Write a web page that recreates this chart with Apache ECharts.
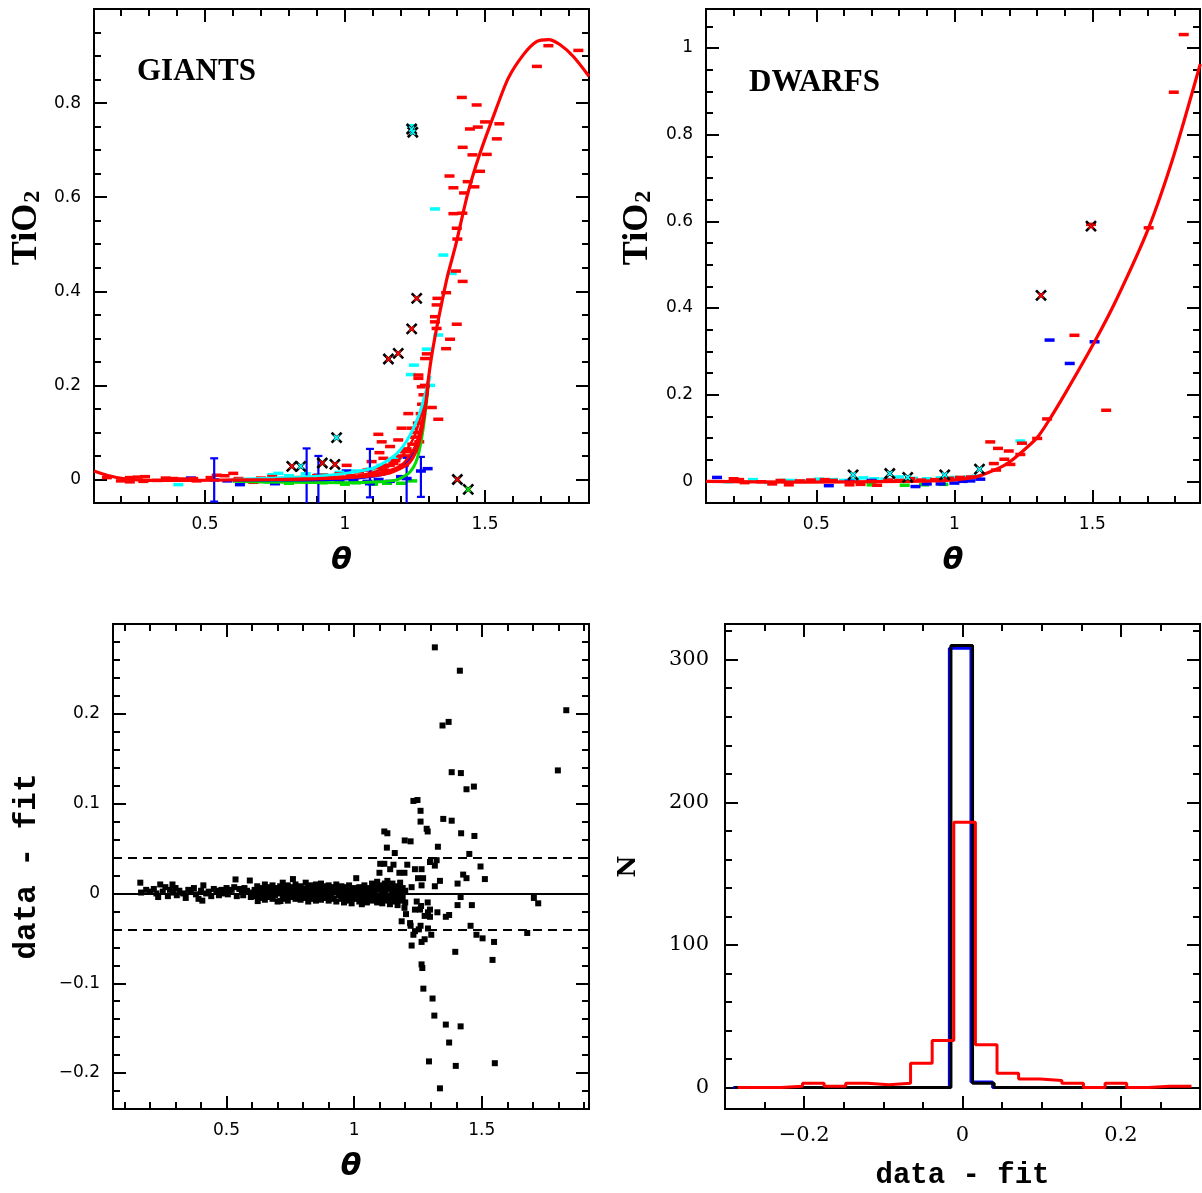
<!DOCTYPE html>
<html><head><meta charset="utf-8">
<script src="https://cdn.jsdelivr.net/npm/echarts@6/dist/echarts.min.js"></script>
<style>html,body{margin:0;padding:0;background:#fff}#c{width:1202px;height:1193px}</style>
</head><body><div id="c"></div>
<script>
// ---------------- Panel 1: GIANTS ----------------
const giantsFit = [[0.104,0.018],[0.15,0.009],[0.208,0.002],[0.3,-0.002],[0.45,-0.002],[0.6,-0.001],[0.75,0.0],[0.9,0.002],[1.0,0.004],[1.1,0.008],[1.16,0.014],[1.2,0.024],[1.23,0.036],[1.25,0.055],[1.265,0.08],[1.28,0.125],[1.29,0.17],[1.298,0.215],[1.31,0.265],[1.325,0.315],[1.339,0.357],[1.365,0.43],[1.396,0.5],[1.437,0.605],[1.48,0.69],[1.536,0.782],[1.583,0.853],[1.637,0.903],[1.685,0.931],[1.726,0.935],[1.768,0.924],[1.815,0.899],[1.871,0.857]];
const giantsFitCyan = [[0.6,0.0],[0.75,0.003],[0.9,0.007],[1.0,0.013],[1.1,0.024],[1.185,0.055],[1.232,0.094],[1.268,0.144],[1.292,0.194],[1.304,0.22]];
const giantsFitBlue = [[0.6,-0.001],[0.8,-0.001],[1.0,0.001],[1.1,0.007],[1.16,0.015],[1.22,0.038],[1.256,0.073],[1.28,0.13],[1.292,0.18],[1.3,0.22]];
const giantsFitGreen = [[0.6,-0.004],[0.8,-0.006],[1.0,-0.007],[1.125,-0.005],[1.185,-0.001],[1.232,0.016],[1.258,0.045],[1.277,0.1],[1.292,0.17],[1.3,0.22]];
const giantsFitRedA = [[0.6,0.0],[0.8,0.001],[1.0,0.006],[1.1,0.015],[1.185,0.038],[1.244,0.087],[1.28,0.157],[1.3,0.22]];
const giantsFitRedB = [[0.6,-0.001],[0.8,0.0],[1.0,0.003],[1.1,0.01],[1.2,0.03],[1.25,0.07],[1.285,0.15],[1.3,0.21]];
const giantsRedPts = [[1.685,0.878],[1.726,0.922],[1.833,0.912],[1.417,0.812],[1.47,0.796],[1.446,0.745],[1.474,0.749],[1.5,0.76],[1.551,0.756],[1.542,0.724],[1.42,0.706],[1.455,0.69],[1.506,0.691],[1.482,0.655],[1.373,0.645],[1.387,0.62],[1.438,0.633],[1.462,0.622],[1.425,0.609],[1.387,0.565],[1.419,0.566],[1.399,0.534],[1.401,0.511],[1.396,0.443],[1.42,0.421],[1.361,0.397],[1.33,0.385],[1.327,0.371],[1.321,0.346],[1.321,0.335],[1.327,0.321],[1.399,0.33],[1.375,0.298],[1.361,0.278],[1.292,0.267],[1.286,0.257],[1.262,0.222],[1.262,0.215],[1.274,0.197],[1.31,0.153],[1.333,0.128],[1.226,0.14],[1.202,0.109],[1.238,0.109],[1.119,0.096],[1.131,0.08],[1.161,0.07],[1.19,0.084],[1.123,0.057],[1.214,0.059],[1.006,0.03],[1.095,0.038],[1.137,0.045],[1.149,0.03],[1.173,0.034],[0.923,0.009],[0.851,0.002],[0.804,-0.001],[0.601,0.013],[0.542,0.009],[0.458,0.002],[0.387,0.002],[0.286,0.006],[0.232,0.004],[0.232,-0.005],[0.28,-0.004],[0.673,-0.006],[0.875,-0.005],[0.15,0.004],[0.2,-0.003],[0.26,0.005],[0.33,-0.002],[0.36,0.003],[0.42,0.001],[0.47,-0.003],[0.52,0.004],[0.57,0.008],[0.62,0.002],[0.66,-0.004],[0.7,0.003],[0.74,0.006],[0.78,0.001],[0.83,0.004],[0.88,0.0],[0.9,0.008],[0.95,0.004],[0.98,0.012],[1.02,0.008],[1.05,0.016],[1.08,0.02],[1.1,0.012],[1.12,0.025],[1.14,0.02],[1.16,0.03],[1.18,0.04],[1.2,0.05],[1.21,0.03],[1.22,0.065],[1.23,0.05],[1.24,0.075],[1.245,0.06],[1.25,0.09],[1.255,0.1],[1.26,0.12],[1.265,0.08],[1.27,0.14],[1.275,0.16],[1.28,0.18],[1.285,0.2]];
const giantsCyanPts = [[1.238,0.752],[1.321,0.575],[1.351,0.477],[1.381,0.438],[1.333,0.307],[1.292,0.277],[1.246,0.243],[1.235,0.223],[1.304,0.2],[0.762,0.013],[0.405,-0.011],[1.185,0.046],[0.74,0.01],[0.8,0.008],[0.86,0.012],[0.92,0.01],[0.98,0.015],[1.04,0.018],[1.09,0.022],[1.13,0.03],[1.17,0.04],[1.21,0.06]];
const giantsBluePts = [[0.533,-0.001],[0.863,0.002],[0.905,0.009],[1.089,-0.009],[1.22,0.002],[1.271,0.018],[1.295,0.023],[1.006,0.018],[0.625,-0.011],[0.75,-0.009],[0.45,0.003],[0.58,-0.003],[0.7,-0.004],[0.78,0.002],[0.84,-0.002],[0.92,0.0],[0.98,-0.005],[1.03,-0.002],[1.08,-0.004],[1.12,0.0],[1.16,-0.004],[1.2,0.006]];
const giantsBlueErr = [[0.533,-0.047,0.045],[0.863,-0.06,0.066],[0.905,-0.06,0.05],[1.089,-0.038,0.065],[1.22,-0.06,0.046],[1.271,-0.037,0.048]];
const giantsGreenPts = [[0.66,-0.003],[0.73,-0.005],[0.8,-0.008],[0.86,-0.004],[0.92,-0.007],[1.0,-0.01],[1.04,-0.007],[1.1,-0.01],[1.15,-0.008],[1.2,-0.008],[1.24,-0.003]];
const giantsCrossCyan = [[1.238,0.745],[1.242,0.738],[0.97,0.089],[0.842,0.028]];
const giantsCrossRed = [[1.256,0.385],[1.238,0.32],[1.19,0.268],[1.155,0.256],[0.81,0.028],[0.919,0.035],[0.964,0.032],[1.401,0.0]];
const giantsCrossGreen = [[1.44,-0.021]];

// ---------------- Panel 2: DWARFS ----------------
const dwarfsFit = [[0.1,0.0],[0.442,-0.002],[0.804,0.0],[0.986,0.003],[1.07,0.009],[1.13,0.022],[1.191,0.041],[1.239,0.065],[1.3,0.101],[1.336,0.134],[1.408,0.21],[1.508,0.322],[1.589,0.422],[1.704,0.585],[1.795,0.752],[1.891,0.963]];
const dwarfsRedPts = [[1.831,1.031],[1.795,0.898],[1.704,0.585],[1.495,0.593],[1.435,0.337],[1.55,0.164],[1.336,0.144],[1.3,0.099],[1.13,0.091],[1.158,0.076],[1.197,0.07],[1.245,0.088],[1.239,0.062],[1.143,0.041],[1.181,0.051],[1.203,0.039],[1.151,0.026],[0.2,0.006],[0.22,0.004],[0.24,-0.003],[0.3,-0.001],[0.34,-0.006],[0.37,0.002],[0.4,-0.008],[0.44,0.001],[0.48,0.003],[0.53,0.004],[0.56,0.002],[0.62,-0.008],[0.66,-0.007],[0.7,0.0],[0.72,-0.009],[0.76,0.003],[0.8,0.002],[0.84,0.006],[0.88,0.003],[0.93,0.004],[0.98,0.007],[1.02,0.009],[1.06,0.01]];
const dwarfsBluePts = [[1.345,0.326],[1.418,0.272],[1.508,0.322],[0.14,0.009],[0.545,-0.01],[0.62,0.0],[0.7,0.002],[0.859,-0.012],[0.9,-0.006],[0.95,-0.006],[1.0,-0.004],[1.058,0.001],[1.094,0.005],[1.03,0.0]];
const dwarfsCyanPts = [[1.239,0.093],[0.18,-0.001],[0.27,0.004],[0.33,-0.003],[0.38,0.002],[0.41,0.002],[0.47,0.001],[0.51,0.005],[0.56,0.004],[0.6,0.002],[0.64,0.004],[0.67,0.008],[0.71,0.006],[0.75,0.005],[0.8,0.01],[0.85,0.007],[0.9,0.006],[0.95,0.008],[1.0,0.009],[1.05,0.01],[1.08,0.012]];
const dwarfsGreenPts = [[0.7,-0.008],[0.82,-0.009],[0.89,-0.008],[0.96,-0.007]];
const dwarfsCrossCyan = [[0.633,0.015],[0.766,0.018],[0.831,0.009],[0.965,0.015],[1.091,0.028]];
const dwarfsCrossRed = [[1.314,0.429],[1.495,0.589]];

// ---------------- Panel 3: residuals ----------------
const residOutliers = [[1.316,0.274],[1.414,0.248],[1.831,0.204],[1.346,0.187],[1.37,0.191],[1.798,0.137],[1.382,0.135],[1.418,0.134],[1.44,0.116],[1.469,0.119],[1.232,0.103],[1.248,0.104],[1.26,0.092],[1.26,0.08],[1.284,0.072],[1.288,0.069],[1.349,0.083],[1.382,0.081],[1.118,0.069],[1.13,0.067],[1.419,0.067],[1.471,0.064],[1.198,0.059],[1.221,0.058],[1.128,0.051],[1.159,0.045],[1.328,0.052],[1.451,0.044],[1.102,0.033],[1.118,0.033],[1.154,0.032],[1.208,0.032],[1.238,0.027],[1.264,0.027],[1.297,0.035],[1.323,0.037],[1.316,0.031],[1.495,0.03],[1.099,0.023],[1.141,0.027],[1.177,0.023],[1.197,0.023],[1.25,0.017],[1.27,0.017],[1.427,0.021],[1.44,0.017],[1.512,0.016],[1.008,0.017],[0.76,0.016],[1.336,0.014],[1.264,0.009],[1.225,0.007],[1.405,0.011],[1.316,0.008],[1.417,-0.004],[1.704,-0.005],[1.721,-0.011],[1.405,-0.013],[1.461,-0.013],[1.288,-0.01],[1.245,-0.009],[1.262,-0.014],[1.297,-0.018],[1.326,-0.021],[1.197,-0.016],[1.238,-0.018],[1.203,-0.023],[1.186,-0.031],[1.219,-0.033],[1.258,-0.018],[1.289,-0.021],[1.276,-0.025],[1.297,-0.026],[1.359,-0.026],[1.372,-0.024],[1.221,-0.036],[1.26,-0.036],[1.238,-0.042],[1.253,-0.04],[1.232,-0.046],[1.289,-0.039],[1.302,-0.046],[1.276,-0.051],[1.264,-0.054],[1.456,-0.036],[1.479,-0.046],[1.503,-0.05],[1.548,-0.054],[1.678,-0.044],[1.225,-0.058],[1.396,-0.065],[1.542,-0.074],[1.264,-0.079],[1.267,-0.083],[1.271,-0.106],[1.307,-0.117],[1.314,-0.136],[1.359,-0.146],[1.417,-0.148],[1.372,-0.166],[1.293,-0.187],[1.398,-0.192],[1.551,-0.189],[1.336,-0.217]];
const residBand = [[0.162,0.012],[0.165,0.001],[0.185,0.004],[0.2,0.002],[0.215,0.005],[0.225,0.0],[0.232,-0.004],[0.24,0.01],[0.25,0.002],[0.26,0.007],[0.27,-0.003],[0.278,0.004],[0.288,0.01],[0.29,0.001],[0.3,0.006],[0.305,-0.002],[0.315,0.003],[0.33,0.0],[0.34,-0.005],[0.35,0.004],[0.36,0.002],[0.372,0.006],[0.38,-0.001],[0.39,-0.006],[0.4,0.003],[0.405,-0.008],[0.409,0.009],[0.42,0.0],[0.43,0.002],[0.44,-0.003],[0.45,0.005],[0.46,0.003],[0.47,-0.002],[0.48,0.004],[0.49,0.0],[0.5,0.006],[0.505,-0.001],[0.51,0.002],[0.52,0.004],[0.53,0.007],[0.535,0.0156],[0.54,-0.003],[0.55,0.005],[0.56,0.002],[0.565,-0.002],[0.57,0.006],[0.58,0.003],[0.591,0.0144],[0.595,-0.004],[0.6,0.001],
[0.61,0.004],[0.61,-0.003],[0.62,0.008],[0.622,-0.0085],[0.62,0.001],[0.63,0.002],[0.63,-0.005],[0.64,0.006],[0.64,0.0],[0.65,0.01],[0.65,-0.002],[0.65,-0.007],[0.66,0.003],[0.66,0.007],[0.67,-0.004],[0.67,0.005],[0.67,0.001],[0.68,0.009],[0.68,-0.006],[0.69,0.002],[0.69,-0.002],[0.69,0.006],[0.7,0.004],[0.7,-0.009],[0.711,-0.0085],[0.71,0.0],[0.71,0.008],[0.72,0.012],[0.72,0.003],[0.72,-0.006],[0.73,0.006],[0.73,-0.002],[0.74,0.001],[0.74,0.009],[0.74,-0.008],[0.75,0.004],[0.75,-0.004],[0.76,0.007],[0.76,-0.001],[0.77,0.003],[0.77,-0.006],[0.77,0.01],[0.78,0.0],[0.78,0.006],[0.78,-0.003],[0.79,0.008],[0.79,-0.007],[0.79,0.002],[0.8,0.005],[0.8,-0.002],[0.81,0.012],[0.81,0.001],[0.81,-0.005],[0.82,0.004],[0.82,-0.009],[0.82,0.007],[0.83,0.0],[0.83,0.009],[0.83,-0.003],[0.84,0.006],[0.84,-0.006],[0.84,0.002],[0.85,0.01],[0.85,-0.001],[0.85,-0.008],[0.86,0.004],[0.86,0.007],[0.86,-0.004],[0.87,0.001],[0.87,-0.007],[0.87,0.011],[0.88,0.005],[0.88,-0.002],[0.88,0.008],[0.89,-0.005],[0.89,0.003],[0.89,0.0],[0.9,0.009],[0.9,-0.008],[0.9,0.002],[0.91,0.005],[0.91,-0.003],[0.92,0.001],[0.92,0.007],[0.92,-0.006],[0.93,0.004],[0.93,-0.009],[0.93,0.01],[0.94,-0.002],[0.94,0.006],[0.95,0.003],[0.95,-0.006],[0.95,0.008],[0.96,0.0],[0.96,-0.01],[0.96,0.005],[0.97,0.007],[0.97,-0.004],[0.98,0.002],[0.98,-0.008],[0.98,0.009],[0.99,0.005],[0.99,-0.002],[0.99,-0.011],[1.0,0.0],[1.0,0.006],[1.0,-0.006],[1.01,-0.003],[1.01,0.003],[1.02,0.001],[1.02,-0.009],[1.02,0.007],[1.03,-0.005],[1.03,0.004],[1.03,-0.012],[1.04,0.002],[1.04,-0.007],[1.04,0.009],[1.05,-0.002],[1.05,0.005],[1.05,-0.01],[1.06,0.006],[1.06,-0.005],[1.06,0.0],[1.07,-0.008],[1.07,0.003],[1.07,0.011],[1.08,0.0],[1.08,-0.004],[1.08,0.007],[1.09,-0.01],[1.09,0.004],[1.09,0.013],[1.1,-0.003],[1.1,0.009],[1.1,-0.007],[1.11,0.002],[1.11,-0.011],[1.11,0.006],[1.12,-0.005],[1.12,0.011],[1.12,0.0],[1.13,0.005],[1.13,-0.008],[1.13,0.014],[1.14,-0.002],[1.14,0.008],[1.14,-0.012],[1.15,0.003],[1.15,-0.006],[1.15,0.011],[1.16,-0.009],[1.16,0.005],[1.16,0.0],[1.17,0.008],[1.17,-0.004],[1.17,-0.013],[1.18,0.002],[1.18,-0.008],[1.18,0.012],[1.19,-0.005],[1.19,0.006],[1.2,0.003],[1.2,-0.01]];
const residZero = [0];
const residLimits = [-0.04, 0.04];

// ---------------- Panel 4: histograms ----------------
const histRedEdges = [-0.284,-0.2567,-0.2294,-0.2021,-0.1748,-0.1475,-0.1202,-0.0929,-0.0656,-0.0383,-0.011,0.0163,0.0436,0.0709,0.0982,0.1255,0.1528,0.1801,0.2074,0.2347,0.262,0.2893];
const histRedCounts = [0,0,1,3,1,3,2,3,17,33,186,30,10,6,5,3,0,3,0,1,1];
const histBlackEdges = [-0.2876,-0.2603,-0.233,-0.2057,-0.1784,-0.1511,-0.1238,-0.0965,-0.0692,-0.0419,-0.0146,0.0127,0.04,0.0673,0.0946,0.1219,0.1492,0.1765,0.2038,0.2311,0.2584,0.2857];
const histBlackCounts = [0,0,0,0,0,0,0,0,0,0,310,3,0,0,0,0,0,0,0,0,0];
const histBlueEdges = [-0.2896,-0.2623,-0.235,-0.2077,-0.1804,-0.1531,-0.1258,-0.0985,-0.0712,-0.0439,-0.0166,0.0107,0.038,0.0653,0.0926,0.1199,0.1472,0.1745,0.2018,0.2291,0.2564,0.2837];
const histBlueCounts = [0,0,0,0,0,0,0,0,0,0,308,4,0,0,0,0,0,0,0,0,0];

// ---------------- Tick values ----------------
const thetaMajor = [0.5, 1, 1.5];
const thetaMinor1 = [0.2,0.3,0.4,0.6,0.7,0.8,0.9,1.1,1.2,1.3,1.4,1.6,1.7,1.8];
const thetaMinor3 = [0.1,0.2,0.3,0.4,0.6,0.7,0.8,0.9,1.1,1.2,1.3,1.4,1.6,1.7,1.8,1.9];
const tio2MajorG = [0, 0.2, 0.4, 0.6, 0.8];
const tio2MajorD = [0, 0.2, 0.4, 0.6, 0.8, 1];
const tio2MinorG = [-0.05,0.05,0.1,0.15,0.25,0.3,0.35,0.45,0.5,0.55,0.65,0.7,0.75,0.85,0.9,0.95];
const tio2MinorD = [-0.05,0.05,0.1,0.15,0.25,0.3,0.35,0.45,0.5,0.55,0.65,0.7,0.75,0.85,0.9,0.95,1.05];
const residMajor = [-0.2, -0.1, 0, 0.1, 0.2];
const residMinor = [-0.22,-0.18,-0.16,-0.14,-0.12,-0.08,-0.06,-0.04,-0.02,0.02,0.04,0.06,0.08,0.12,0.14,0.16,0.18,0.22,0.24,0.26,0.28];
const diffMajor = [-0.2, 0, 0.2];
const diffMinor = [-0.25,-0.15,-0.1,-0.05,0.05,0.1,0.15,0.25];
const countMajor = [0, 100, 200, 300];
const countMinor = [20,40,60,80,120,140,160,180,220,240,260,280,320];

// ---------------- Build option ----------------
const RED='#ff0000', CYAN='#00ffff', BLUE='#0000ff', GREEN='#00dd00', BLACK='#000000';
const minusFmt = v => (v < 0 ? '\u2212' + Math.abs(v) : String(v));
const sansLbl = {color:'#000', fontFamily:'DejaVu Sans', fontSize:17, margin:13, formatter:minusFmt};
const serifLbl = {color:'#000', fontFamily:'DejaVu Serif', fontSize:21, margin:16, formatter:minusFmt};

function axesFor(kind, gi, min, max, major, minor, lbl, extra) {
  const sides = kind === 'x' ? ['bottom','top'] : ['left','right'];
  const out = [];
  sides.forEach((pos, si) => {
    [major, minor].forEach((vals, mi) => {
      const ax = {type:'value', gridIndex:gi, min:min, max:max, position:pos,
        axisLine:{show:false, onZero:false},
        axisTick:{show:true, inside:true, length: mi===0 ? 13 : 7, customValues: vals,
                  lineStyle:{color:'#000', width:2}},
        axisLabel:{show:false}, splitLine:{show:false}, minorTick:{show:false}};
      if (si === 0 && mi === 0) {
        ax.axisLabel = Object.assign({show:true, customValues: major}, lbl);
        Object.assign(ax, extra || {});
      }
      out.push(ax);
    });
  });
  return out;
}

const grids = [
  {left:94, top:9, width:495, height:494},
  {left:706, top:9, width:494, height:494},
  {left:113, top:624, width:476, height:485},
  {left:725, top:624, width:475, height:485}
].map(g => Object.assign({show:true, borderColor:'#000', borderWidth:2, backgroundColor:'transparent'}, g));

const thetaName = {name:'\u03b8', nameLocation:'middle', nameGap:43,
  nameTextStyle:{fontFamily:'DejaVu Sans', fontWeight:'bold', fontStyle:'italic', fontSize:30, color:'#000'}};

const xAxes = [].concat(
  axesFor('x', 0, 0.104, 1.871, thetaMajor, thetaMinor1, sansLbl, thetaName),
  axesFor('x', 1, 0.1, 1.89, thetaMajor, thetaMinor1, sansLbl, thetaName),
  axesFor('x', 2, 0.055, 1.92, thetaMajor, thetaMinor3, sansLbl, Object.assign({}, thetaName, {nameGap:43})),
  axesFor('x', 3, -0.3, 0.3, diffMajor, diffMinor, serifLbl, {name:'data - fit', nameLocation:'middle', nameGap:52,
    nameTextStyle:{fontFamily:'Liberation Mono', fontWeight:'bold', fontSize:29, color:'#000'}})
);
const yAxes = [].concat(
  axesFor('y', 0, -0.05, 1.0, tio2MajorG, tio2MinorG, sansLbl),
  axesFor('y', 1, -0.05, 1.09, tio2MajorD, tio2MinorD, sansLbl),
  axesFor('y', 2, -0.24, 0.3, residMajor, residMinor, sansLbl, {name:'data - fit', nameLocation:'middle', nameGap:70, nameRotate:90,
    nameTextStyle:{fontFamily:'Liberation Mono', fontWeight:'bold', fontSize:31, color:'#000'}}),
  axesFor('y', 3, -15, 325, countMajor, countMinor, serifLbl, {name:'N', nameLocation:'middle', nameGap:84, nameRotate:90,
    nameTextStyle:{fontFamily:'DejaVu Serif', fontWeight:'bold', fontSize:24, color:'#000'}})
);

function ax(gi) { return {xAxisIndex: gi*4, yAxisIndex: gi*4}; }
function dashes(gi, data, color) {
  return Object.assign({type:'scatter', data:data, symbol:'rect', symbolSize:[10,3.5], silent:true,
    itemStyle:{color:color, opacity:1}, z:2}, ax(gi));
}
function fitLine(gi, data, color, w, z) {
  return Object.assign({type:'line', data:data, showSymbol:false, smooth:0.25, silent:true,
    lineStyle:{color:color, width:w}, z:z}, ax(gi));
}
const crossPath = 'path://M0,0L10,10M10,0L0,10';
function crosses(gi, data, color) {
  return [
    Object.assign({type:'scatter', data:data, symbol:crossPath, symbolSize:10, silent:true,
      itemStyle:{color:'transparent', borderColor:BLACK, borderWidth:2.6, opacity:1}, z:6}, ax(gi)),
    Object.assign({type:'scatter', data:data, symbol:crossPath, symbolSize:5, silent:true,
      itemStyle:{color:'transparent', borderColor:color, borderWidth:1.6, opacity:1}, z:7}, ax(gi))
  ];
}
function errBars(gi, data, color) {
  return Object.assign({type:'custom', data:data, silent:true, z:3, encode:{x:0, y:[1,2]},
    renderItem: function(params, api) {
      const cs = params.coordSys;
      const x = api.value(0);
      const p1 = api.coord([x, api.value(1)]);
      const p2 = api.coord([x, api.value(2)]);
      const yb = cs.y + cs.height, yt = cs.y;
      const y1 = Math.min(p1[1], yb), y2 = Math.max(p2[1], yt);
      const st = {stroke:color, lineWidth:2.2};
      const ch = [{type:'line', shape:{x1:p1[0], y1:y1, x2:p1[0], y2:y2}, style:st}];
      if (p1[1] <= yb) ch.push({type:'line', shape:{x1:p1[0]-4, y1:y1, x2:p1[0]+4, y2:y1}, style:st});
      if (p2[1] >= yt) ch.push({type:'line', shape:{x1:p2[0]-4, y1:y2, x2:p2[0]+4, y2:y2}, style:st});
      return {type:'group', children:ch};
    }}, ax(gi));
}
function stepHist(gi, edges, counts, color, w, z) {
  const pts = counts.map((c, i) => [edges[i], c]);
  pts.push([edges[edges.length-1], counts[counts.length-1]]);
  return Object.assign({type:'line', data:pts, step:'end', showSymbol:false, silent:true,
    lineStyle:{color:color, width:w}, z:z}, ax(gi));
}

const series = [
  // panel 1
  dashes(0, giantsGreenPts, GREEN), dashes(0, giantsBluePts, BLUE), dashes(0, giantsCyanPts, CYAN), dashes(0, giantsRedPts, RED),
  errBars(0, giantsBlueErr, BLUE),
  fitLine(0, giantsFitGreen, GREEN, 3, 4), fitLine(0, giantsFitBlue, BLUE, 3, 4), fitLine(0, giantsFitRedB, RED, 2.5, 4),
  fitLine(0, giantsFitRedA, RED, 2.5, 4), fitLine(0, giantsFitCyan, CYAN, 3, 4),
  fitLine(0, giantsFit, RED, 3.2, 5),
  ...crosses(0, giantsCrossCyan, CYAN), ...crosses(0, giantsCrossRed, RED), ...crosses(0, giantsCrossGreen, GREEN),
  // panel 2
  dashes(1, dwarfsGreenPts, GREEN), dashes(1, dwarfsCyanPts, CYAN), dashes(1, dwarfsBluePts, BLUE), dashes(1, dwarfsRedPts, RED),
  fitLine(1, dwarfsFit, RED, 3.2, 5),
  ...crosses(1, dwarfsCrossCyan, CYAN), ...crosses(1, dwarfsCrossRed, RED),
  // panel 3
  Object.assign({type:'scatter', data:residBand.concat(residOutliers), symbol:'rect', symbolSize:6, silent:true,
    itemStyle:{color:BLACK, opacity:1}, z:3,
    markLine:{silent:true, symbol:'none', label:{show:false}, animation:false,
      lineStyle:{color:BLACK, width:2},
      data: residZero.map(v => ({yAxis:v, lineStyle:{type:'solid', color:BLACK, width:2}}))
        .concat(residLimits.map(v => ({yAxis:v, lineStyle:{type:[9,6], color:BLACK, width:2}})))}}, ax(2)),
  // panel 4
  stepHist(3, histBlueEdges, histBlueCounts, BLUE, 3, 3),
  stepHist(3, histBlackEdges, histBlackCounts, BLACK, 3, 4),
  stepHist(3, histRedEdges, histRedCounts, RED, 3, 5)
];

const titleFont = {fontFamily:'Liberation Serif', fontWeight:'bold', fontSize:31, fill:'#000'};
const tioRich = {
  a:{fontFamily:'Liberation Serif', fontWeight:'bold', fontSize:36, fill:'#000'},
  b:{fontFamily:'Liberation Serif', fontWeight:'bold', fontSize:24, fill:'#000', padding:[12,0,0,1]}
};
const graphic = [
  {type:'text', left:137, top:56, style:Object.assign({text:'GIANTS'}, titleFont), z:10},
  {type:'text', left:749, top:67, style:Object.assign({text:'DWARFS'}, titleFont), z:10},
  {type:'text', x:27, y:228, rotation:Math.PI/2, style:{text:'{a|TiO}{b|2}', rich:tioRich, align:'center', verticalAlign:'middle'}, z:10},
  {type:'text', x:638, y:228, rotation:Math.PI/2, style:{text:'{a|TiO}{b|2}', rich:tioRich, align:'center', verticalAlign:'middle'}, z:10}
];

const chart = echarts.init(document.getElementById('c'), null, {renderer:'canvas'});
chart.setOption({animation:false, backgroundColor:'#fff', grid:grids, xAxis:xAxes, yAxis:yAxes, series:series, graphic:graphic});
</script></body></html>
